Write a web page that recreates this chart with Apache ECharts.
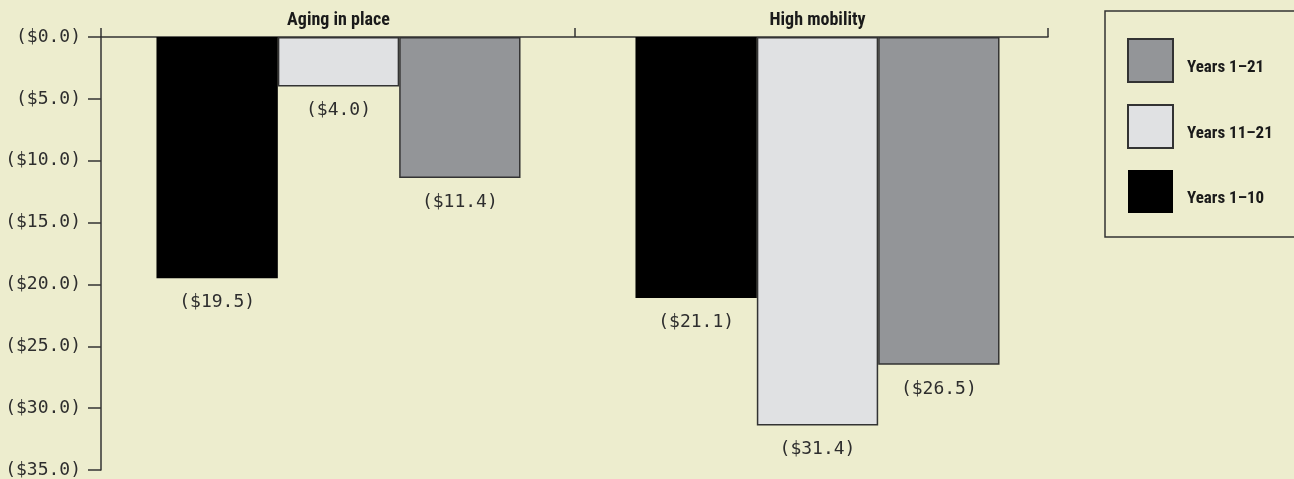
<!DOCTYPE html>
<html>
<head>
<meta charset="utf-8">
<script src="https://cdn.jsdelivr.net/npm/echarts@6/dist/echarts.min.js"></script>
<style>
  html, body { margin: 0; padding: 0; background: #EDEDCE; }
  #chart { width: 1294px; height: 479px; }
</style>
</head>
<body>
<div id="chart"></div>
<script>
// Cost difference by scenario, in $ (negative = savings lost)
const categories = ['Aging in place', 'High mobility'];
const years1to10 = [-19.5, -21.1];
const years11to21 = [-4.0, -31.4];
const years1to21 = [-11.4, -26.5];
const legendOrder = ['Years 1–21', 'Years 11–21', 'Years 1–10'];

const monoFont = '"DejaVu Sans Mono", "Liberation Mono", monospace';
const headFont = '"Roboto Condensed", "Liberation Sans Narrow", "DejaVu Sans Condensed", sans-serif';
const ink = '#1a1a1a';
const numInk = '#2e2e2e';
const lineColor = '#333';
const money = v => '($' + Math.abs(v).toFixed(1) + ')';

function barSeries(name, data, color, border) {
  return {
    name: name,
    type: 'bar',
    xAxisIndex: 1,
    yAxisIndex: 1,
    data: data,
    barGap: '0%',
    barCategoryGap: '24%',
    itemStyle: { color: color, borderColor: border, borderWidth: border ? 1.5 : 0 },
    label: {
      show: true,
      position: 'bottom',
      distance: 15,
      formatter: p => money(p.value),
      fontFamily: monoFont,
      fontSize: 18,
      color: numInk
    }
  };
}

const chart = echarts.init(document.getElementById('chart'));
chart.setOption({
  backgroundColor: '#EDEDCE',
  animation: false,
  grid: [
    // frame: axis lines, ticks and value labels
    { left: 101, right: 246, top: 37, bottom: 9 },
    // bar groups and their headings
    { left: 99, right: 237, top: 37, bottom: 9 }
  ],
  legend: {
    data: legendOrder,
    orient: 'vertical',
    left: 1105,
    top: 11,
    padding: [27, 60, 24, 22],
    itemWidth: 45,
    itemHeight: 43,
    itemGap: 21,
    icon: 'rect',
    borderColor: lineColor,
    borderWidth: 1.5,
    formatter: '{t|{name}}',
    textStyle: {
      fontFamily: headFont,
      fontWeight: 'bold',
      fontSize: 17,
      color: ink,
      rich: {
        t: {
          fontFamily: headFont,
          fontWeight: 'bold',
          fontSize: 17,
          color: ink,
          padding: [15, 0, 0, 9]
        }
      }
    }
  },
  xAxis: [
    {
      type: 'category',
      gridIndex: 0,
      data: categories,
      position: 'top',
      axisLine: { onZero: false, lineStyle: { color: lineColor, width: 1.5 } },
      axisTick: { show: true, length: 9, alignWithLabel: false, lineStyle: { color: lineColor, width: 1.5 } },
      axisLabel: { show: false }
    },
    {
      type: 'category',
      gridIndex: 1,
      data: categories,
      position: 'top',
      axisLine: { show: false, onZero: false },
      axisTick: { show: false },
      axisLabel: {
        fontFamily: headFont,
        fontWeight: 'bold',
        fontSize: 18,
        color: ink,
        margin: 8
      }
    }
  ],
  yAxis: [
    {
      type: 'value',
      gridIndex: 0,
      min: -35,
      max: 0,
      interval: 5,
      splitLine: { show: false },
      axisLine: { show: true, lineStyle: { color: lineColor, width: 1.5 } },
      axisTick: { show: true, length: 13, lineStyle: { color: lineColor, width: 1.5 } },
      axisLabel: {
        formatter: v => money(v),
        fontFamily: monoFont,
        fontSize: 18,
        color: numInk,
        margin: 20
      }
    },
    {
      type: 'value',
      gridIndex: 1,
      min: -35,
      max: 0,
      interval: 5,
      show: false
    }
  ],
  series: [
    barSeries('Years 1–10', years1to10, '#000000', null),
    barSeries('Years 11–21', years11to21, '#E0E1E3', lineColor),
    barSeries('Years 1–21', years1to21, '#939598', lineColor)
  ]
});
</script>
</body>
</html>
